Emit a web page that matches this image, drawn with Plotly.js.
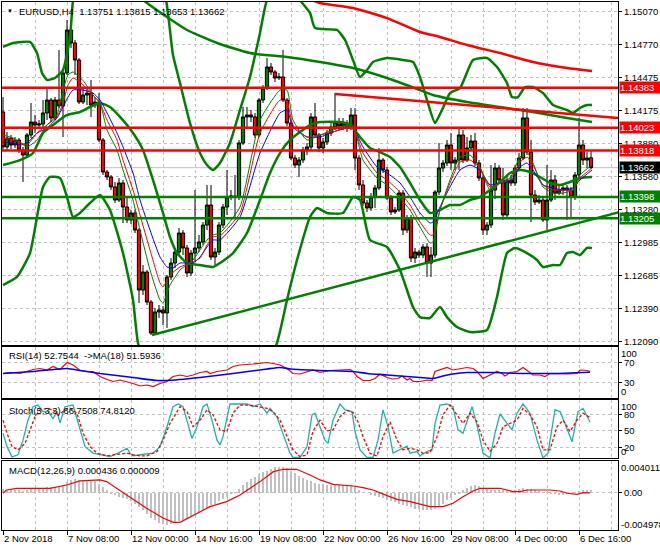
<!DOCTYPE html>
<html><head><meta charset="utf-8">
<script src="https://cdn.plot.ly/plotly-3.0.1.min.js"></script>
<style>html,body{margin:0;padding:0;background:#fff;}#chart{width:660px;height:550px;}</style>
</head><body><div id="chart"></div>
<script>
// ---------- DATA ----------
const dateLabels = ['2 Nov 2018','7 Nov 08:00','12 Nov 00:00','14 Nov 16:00','19 Nov 08:00','22 Nov 00:00','26 Nov 16:00','29 Nov 08:00','4 Dec 00:00','6 Dec 16:00'];
const priceTicks = [1.15070,1.14770,1.14475,1.14175,1.13880,1.13580,1.13280,1.12985,1.12685,1.12390,1.12090];
const redLevels = [1.14383, 1.14023, 1.13818];
const greenLevels = [1.13398, 1.13205];
const currentPrice = 1.13662;

const candleOpen = [1.14165,1.13849,1.13930,1.13867,1.13912,1.13822,1.13776,1.13957,1.14074,1.14047,1.14056,1.14156,1.14273,1.14111,1.14273,1.14219,1.14517,1.14905,1.14788,1.14634,1.14255,1.14318,1.14336,1.14228,1.14255,1.13912,1.13623,1.13578,1.13488,1.13370,1.13524,1.13307,1.13190,1.13253,1.13099,1.12557,1.12720,1.12449,1.12169,1.12359,1.12377,1.12350,1.12675,1.12801,1.12900,1.13072,1.12937,1.12711,1.12891,1.12937,1.12991,1.13144,1.13325,1.12855,1.12900,1.13144,1.13307,1.13397,1.13406,1.13397,1.13885,1.14120,1.14138,1.14120,1.13957,1.14273,1.14381,1.14571,1.14526,1.14472,1.14481,1.14273,1.14065,1.13749,1.13686,1.13731,1.13822,1.13849,1.14120,1.13957,1.13840,1.13894,1.13975,1.14029,1.14074,1.14038,1.14065,1.14020,1.14138,1.13749,1.13506,1.13343,1.13298,1.13397,1.13479,1.13731,1.13641,1.13388,1.13262,1.13280,1.13433,1.13099,1.13208,1.12846,1.12900,1.12873,1.12946,1.12801,1.12873,1.13442,1.13659,1.13704,1.13867,1.13704,1.13731,1.13957,1.13731,1.13840,1.13903,1.13704,1.13569,1.13099,1.13144,1.13460,1.13659,1.13551,1.13235,1.13551,1.13524,1.13659,1.13749,1.14111,1.13803,1.13415,1.13352,1.13370,1.13190,1.13370,1.13551,1.13433,1.13460,1.13479,1.13460,1.13397,1.13596,1.13867,1.13731,1.13751];
const candleHigh = [1.14300,1.13984,1.13957,1.13939,1.13930,1.13849,1.13975,1.14246,1.14138,1.14092,1.14273,1.14381,1.14291,1.14300,1.14725,1.14544,1.14995,1.14995,1.14815,1.14652,1.14381,1.14381,1.14454,1.14300,1.14336,1.13930,1.13641,1.13596,1.13533,1.13569,1.13551,1.13388,1.13280,1.13280,1.13117,1.12783,1.12738,1.12467,1.12395,1.12422,1.12413,1.12693,1.12846,1.12937,1.13117,1.13099,1.12964,1.12919,1.13460,1.13054,1.13171,1.13506,1.13506,1.12937,1.13171,1.13334,1.13641,1.13460,1.13596,1.13912,1.14210,1.14210,1.14183,1.14156,1.14291,1.14408,1.14652,1.14607,1.14544,1.14517,1.14725,1.14291,1.14092,1.13776,1.13758,1.13849,1.13885,1.14156,1.14246,1.13975,1.13930,1.14002,1.14065,1.14336,1.14111,1.14111,1.14092,1.14201,1.14201,1.13776,1.13551,1.13370,1.13433,1.13506,1.13840,1.13749,1.13668,1.13415,1.13307,1.13460,1.13460,1.13235,1.13235,1.12937,1.12919,1.12973,1.12982,1.12946,1.13460,1.13885,1.13731,1.13912,1.13975,1.13758,1.14020,1.14002,1.13939,1.13957,1.13975,1.13731,1.13596,1.13171,1.13686,1.13704,1.13686,1.13659,1.13596,1.13596,1.13686,1.13794,1.14201,1.14201,1.13912,1.13460,1.13415,1.13388,1.13686,1.13641,1.13596,1.13506,1.13506,1.13506,1.13488,1.13623,1.14111,1.13912,1.13803,1.13815];
const candleLow = [1.13822,1.13822,1.13831,1.13840,1.13794,1.13533,1.13758,1.13930,1.13975,1.14020,1.14029,1.14092,1.14074,1.14092,1.14201,1.13939,1.14499,1.14743,1.14499,1.14237,1.14237,1.14228,1.14120,1.14201,1.13894,1.13596,1.13551,1.13460,1.13343,1.13352,1.13162,1.13162,1.13153,1.13072,1.12440,1.12512,1.12422,1.12151,1.12151,1.12305,1.12241,1.12214,1.12648,1.12756,1.12864,1.12873,1.12675,1.12684,1.12810,1.12900,1.12964,1.13099,1.12828,1.12783,1.12873,1.13117,1.13235,1.13370,1.13217,1.13370,1.13867,1.14029,1.14074,1.13930,1.13939,1.14246,1.14363,1.14499,1.14436,1.14454,1.14255,1.14038,1.13731,1.13659,1.13578,1.13704,1.13776,1.13822,1.13930,1.13803,1.13794,1.13867,1.13948,1.14002,1.14002,1.14002,1.13984,1.14002,1.13641,1.13460,1.13316,1.13262,1.13271,1.13298,1.13460,1.13614,1.13370,1.13235,1.13244,1.13262,1.13054,1.13072,1.12810,1.12801,1.12846,1.12846,1.12675,1.12675,1.12846,1.13415,1.13623,1.13677,1.13641,1.13641,1.13641,1.13704,1.13713,1.13822,1.13677,1.13542,1.13054,1.13054,1.13117,1.13379,1.13524,1.13190,1.13208,1.13497,1.13497,1.13641,1.13731,1.13776,1.13171,1.13325,1.13334,1.13171,1.13099,1.13352,1.13370,1.13415,1.13415,1.13190,1.13208,1.13370,1.13569,1.13686,1.13659,1.13653];
const candleClose = [1.13849,1.13930,1.13867,1.13912,1.13822,1.13776,1.13957,1.14074,1.14047,1.14056,1.14156,1.14273,1.14111,1.14273,1.14219,1.14517,1.14905,1.14788,1.14634,1.14255,1.14318,1.14336,1.14228,1.14255,1.13912,1.13623,1.13578,1.13488,1.13370,1.13524,1.13307,1.13190,1.13253,1.13099,1.12557,1.12720,1.12449,1.12169,1.12359,1.12377,1.12350,1.12675,1.12801,1.12900,1.13072,1.12937,1.12711,1.12891,1.12937,1.12991,1.13144,1.13325,1.12855,1.12900,1.13144,1.13307,1.13397,1.13406,1.13397,1.13885,1.14120,1.14138,1.14120,1.13957,1.14273,1.14381,1.14571,1.14526,1.14472,1.14481,1.14273,1.14065,1.13749,1.13686,1.13731,1.13822,1.13849,1.14120,1.13957,1.13840,1.13894,1.13975,1.14029,1.14074,1.14038,1.14065,1.14020,1.14138,1.13749,1.13506,1.13343,1.13298,1.13397,1.13479,1.13731,1.13641,1.13388,1.13262,1.13280,1.13433,1.13099,1.13208,1.12846,1.12900,1.12873,1.12946,1.12801,1.12873,1.13442,1.13659,1.13704,1.13867,1.13704,1.13731,1.13957,1.13731,1.13840,1.13903,1.13704,1.13569,1.13099,1.13144,1.13460,1.13659,1.13551,1.13235,1.13551,1.13524,1.13659,1.13749,1.14111,1.13803,1.13415,1.13352,1.13370,1.13190,1.13370,1.13551,1.13433,1.13460,1.13479,1.13460,1.13397,1.13596,1.13867,1.13731,1.13749,1.13662];

// Bollinger bands (read at vertices: bar index, price)
const bbUpperX = [0,2.5,6.75,8.5,9.75,11,13,15,16.75,17.5,19.25,29.25,38,40.75,42.5,44.25,46.75,49.25,51,52.5,54.25,56.75,59.25,61.75,64.25,66,70.5,74.25,76.75,78,83.5,85.5,87.5,89.25,91,92.5,96,100,102.5,104.25,106,108,109.75,111.75,114.25,117.5,121,123.5,126,127.25,128.75,130.5,132.5,135,137.5,141,142.5,144.25,146,147.25];
const bbUpperY = [1.14752,1.14788,1.14797,1.14697,1.14517,1.14454,1.14472,1.14544,1.14842,1.15176,1.15537,1.15718,1.15447,1.15176,1.14679,1.14426,1.14065,1.13794,1.13686,1.13641,1.13704,1.13885,1.14183,1.14481,1.14878,1.15176,1.15402,1.15176,1.15059,1.14923,1.14905,1.14815,1.14634,1.14481,1.14544,1.14616,1.14652,1.14634,1.14616,1.14481,1.14273,1.14065,1.14183,1.14336,1.14381,1.14634,1.14652,1.14571,1.14426,1.14300,1.14300,1.14390,1.14390,1.14336,1.14228,1.14183,1.14156,1.14201,1.14228,1.14228];
const bbMidX = [0,4.25,7.5,10,12.5,16,19.25,21.75,24.25,26.75,29.25,32.5,35,37.5,40,41.75,43.5,46,49.25,52.5,54.25,57.5,61,64.25,66.75,69.25,71.75,74.25,76.75,79.25,84.25,86.75,89.25,91.75,94.25,96.75,99.25,101.75,104.25,106.75,109.25,111.75,114.25,116.75,119.25,121.75,124.25,126.75,129.25,131.75,134.25,136.75,139.25,141.75,144.25,147.25];
const bbMidY = [1.13686,1.13731,1.13794,1.13975,1.14047,1.14138,1.14165,1.14210,1.14246,1.14210,1.14120,1.13975,1.13822,1.13551,1.13253,1.13036,1.12891,1.12801,1.12783,1.12765,1.12801,1.12891,1.13072,1.13370,1.13614,1.13794,1.13912,1.13984,1.14047,1.14074,1.14074,1.14047,1.13939,1.13840,1.13803,1.13758,1.13668,1.13524,1.13370,1.13253,1.13280,1.13325,1.13325,1.13370,1.13397,1.13460,1.13533,1.13614,1.13641,1.13623,1.13578,1.13524,1.13506,1.13533,1.13569,1.13578];
const bbLowX = [0,3.5,6.75,8.5,10,11.75,14.25,16,17.5,19.25,21.75,24.25,26.75,30,32.5,33.75,36.75,49.25,61.75,68.5,71,73.5,76.75,78.5,81,85,87.5,89.25,91.75,96,99.25,102.5,104.25,106.75,109.25,111,113.5,116.75,121,123.5,126,128,131,133.5,135,137.5,139.25,141,142.5,144.25,146,147.25];
const bbLowY = [1.12602,1.12675,1.12891,1.13217,1.13488,1.13578,1.13569,1.13397,1.13217,1.13253,1.13343,1.13415,1.13280,1.12891,1.12467,1.12079,1.11745,1.11383,1.11564,1.12079,1.12467,1.12828,1.13217,1.13298,1.13253,1.13253,1.13397,1.13370,1.13009,1.12946,1.12738,1.12404,1.12313,1.12305,1.12404,1.12313,1.12223,1.12178,1.12196,1.12494,1.12891,1.12937,1.12891,1.12828,1.12765,1.12783,1.12783,1.12891,1.12900,1.12873,1.12937,1.12937];

// Long moving averages
const longGreenX = [29.25,35,41,46,53.5,61.75,71,79.25,87.5,96,104.25,107.5,116,124.25,132.5,141,147.25];
const longGreenY = [1.15357,1.15176,1.15022,1.14905,1.14788,1.14697,1.14661,1.14616,1.14562,1.14472,1.14363,1.14318,1.14255,1.14210,1.14165,1.14111,1.14074];
const longRedX = [74.25,79.25,87.5,96,104.25,109.25,116,124.25,132.5,141,147.25];
const longRedY = [1.15221,1.15149,1.15104,1.15013,1.14887,1.14842,1.14770,1.14697,1.14616,1.14562,1.14535];

// Short moving averages
const maBlueX = [0,2.5,4.25,6,8.5,11,13.5,15,16.25,17.5,20,22.5,24.25,26,28.5,30,32.5,34.25,36.75,39.25,41,42.5,44.25,47.5,49.25,51,52.5,54.25,59.25,64.25,69.25,71,72.5,76,79.25,82.5,86,87.5,90,93.5,96,99.25,101.75,104.25,106.75,107.5,109.25,111.75,114.25,116.75,119.25,121.75,124.25,126.75,129.25,131,132.5,135,137.5,140,142.5,144.25,147.25];
const maBlueY = [1.13894,1.13885,1.13867,1.13885,1.13975,1.14020,1.14111,1.14210,1.14300,1.14363,1.14363,1.14336,1.14273,1.14156,1.13975,1.13849,1.13614,1.13370,1.13099,1.12855,1.12765,1.12756,1.12801,1.12801,1.12855,1.12946,1.13009,1.13009,1.13217,1.13794,1.14156,1.14183,1.14029,1.13939,1.13939,1.13984,1.14020,1.14020,1.13849,1.13668,1.13614,1.13524,1.13397,1.13253,1.13162,1.13171,1.13307,1.13488,1.13641,1.13686,1.13641,1.13506,1.13524,1.13533,1.13668,1.13704,1.13641,1.13506,1.13479,1.13460,1.13479,1.13551,1.13641];
const maFastX = [0,2.5,4.25,6,8.5,11,13.5,15,16.25,17.5,20,22.5,24.25,26,28.5,30,32.5,34.25,36.75,39.25,40,41.75,44.25,47.5,49.25,51,52.5,54.25,59.25,64.25,69.25,71,72.5,76,79.25,82.5,86,87.5,90,93.5,96,99.25,101.75,104.25,106.75,107.5,109.25,111.75,114.25,116.75,119.25,121.75,124.25,126.75,129.25,131,132.5,135,137.5,140,142.5,144.25,147.25];
const maRedY = [1.13930,1.13912,1.13890,1.13867,1.13975,1.14047,1.14120,1.14246,1.14408,1.14472,1.14410,1.14318,1.14246,1.14092,1.13912,1.13731,1.13460,1.13235,1.12919,1.12621,1.12584,1.12693,1.12765,1.12810,1.12846,1.12964,1.13036,1.13045,1.13253,1.13975,1.14273,1.14255,1.14047,1.13939,1.13957,1.13984,1.14029,1.14029,1.13794,1.13614,1.13551,1.13442,1.13325,1.13171,1.13054,1.13054,1.13280,1.13524,1.13713,1.13731,1.13659,1.13488,1.13524,1.13551,1.13713,1.13758,1.13686,1.13506,1.13460,1.13460,1.13460,1.13569,1.13659];
const maGreenY = [1.13957,1.13930,1.13890,1.13849,1.13912,1.14047,1.14138,1.14363,1.14499,1.14526,1.14450,1.14318,1.14246,1.14002,1.13822,1.13641,1.13370,1.13099,1.12738,1.12467,1.12440,1.12602,1.12738,1.12828,1.12919,1.13009,1.13054,1.13072,1.13307,1.14092,1.14363,1.14363,1.14092,1.13912,1.13957,1.14002,1.14047,1.14047,1.13731,1.13569,1.13506,1.13388,1.13280,1.13126,1.12982,1.12991,1.13280,1.13551,1.13758,1.13776,1.13668,1.13460,1.13524,1.13569,1.13758,1.13803,1.13704,1.13488,1.13433,1.13433,1.13460,1.13596,1.13686];

// Trend lines
const trendRedX = [83, 153.75];
const trendRedY = [1.14327, 1.14111];
const trendGreenX = [37.25, 154.25];
const trendGreenY = [1.12151, 1.13262];

// RSI
const rsiX = [0,1.75,4.25,6,7.5,9.25,11,12.5,14.25,16,17.5,19.25,21,22.5,24.25,26,27.5,29.25,31,32.5,34.25,36,37.5,39.25,41,42.5,44.25,46,47.5,49.25,51,51.75,53.5,56,57.5,59.25,62.5,66,67.5,69.25,71,72.5,74.25,76,77.5,79.25,81.75,84.25,86.75,87.5,88.5,90,91.75,93,94.25,96,97.25,98.75,99.75,101,101.75,102.5,104.25,106,107.25,108,109.25,111,112.5,114.25,116,117.5,118.5,120,121.75,123.5,124.75,125.5,126.75,128.5,130,131.25,132.5,134.25,135.5,136.75,138.5,141,143.5,144.25,146,146.75];
const rsiY = [49,51,49,53,57,59,56,63,57,71,66,55,53,53,43,37,33,36,33,29,24,26,23,29,33,43,46,43,46,51,53,49,53,56,63,66,68,71,69,66,59,49,48,53,56,51,55,56,57,53,43,35,35,39,48,41,38,39,44,36,39,33,33,36,35,53,57,61,56,59,61,59,53,39,46,53,49,44,51,53,61,53,46,46,43,49,48,48,49,56,55,52.75];
const rsiMaX = [0,7.5,16,19.25,24.25,32.5,38.5,41,49.25,57.5,66,69.25,72,79.25,87.5,91,96,99.25,104.25,107.5,110,112.5,116,119.25,122.5,129.25,137.5,146.75];
const rsiMaY = [49,53,59,55,49,41,35,35,41,49,58,61,58,55,53,49,46,44,41,39,44,48,51,51,51,49,49,51.59];

// Stochastic
const stochKX = [0,1,2.25,3.75,5,6.25,7.5,8.75,10,11.25,12.5,13.5,14.25,15.5,17.5,18.75,20.5,22.5,24.75,26.75,28.75,31,31.75,32.5,34.25,36,37.5,39.25,41,42.5,43.75,45,46,47.25,48.5,50,51,52.25,53.5,54.25,55,56.75,58.5,61,62.5,64.25,66,66.75,68.5,70,71.75,72.5,74.25,76,77.25,78,79.25,80.5,81.25,82.5,84.25,85.5,87.25,88,89.25,91,92.5,93.75,95,96.25,97.5,99.25,101,101.75,103.5,104.25,106,107.25,108,109.25,111,112.5,113.75,115,117.25,118.5,120,121.75,123,124.25,126,127.25,128.5,130,131.75,133.5,135,136.25,138,139.25,140.5,142.25,143.75,145,146.75];
const stochKY = [46,21,2,6,33,70,95,98,86,86,73,86,65,95,98,64,21,9,6,2.5,9,18,9,4,6,7,9,21,58,95,100,95,70,36,58,95,100,70,33,24,39.5,100,100,100,95,100,83,92,76,46,9,1,1,21,80,83,59,33,27,70,100,89,86,49,15,1,1,33,89,58,9,15,22,9,12,4,12,15,64,98,100,95,52,46,95,61,9,0,46,81.5,64,52,83,100,83,33,0,9,89,86,64,30,86,92,66.75];
const stochDX = [0,1,2.25,3.75,5.5,6.75,8,9.25,11,12.5,13.75,15,16.75,18.5,20,21.75,23.5,26,28.5,31,32.5,34.25,36,38.5,40,41.75,44.25,46,47.5,49.25,51,52.5,54.25,56,57.5,59.25,61.75,64.25,66,67.5,69.25,71,72.5,74.25,76,77.5,79.25,81,82.5,84.25,86,87.5,88.75,90,91.75,93.5,95,96.75,98.5,100,101.75,103.5,105,106.75,108.5,110,111.75,113.5,115,116.75,118.5,120,121.75,123.5,125,126.75,128.5,130,131.75,133.5,135,136.75,138.5,140,141.75,143.5,145,146.75];
const stochDY = [70,46,21,15,27,52,76,89,92,89,80,86,92,83,46,21,9,4,6,9,6,4,4,12,33,64,95,86,58,70,89,80,52,49,83,98,98,95,92,86,70,40,15,2.5,5.6,50,70,50,52,76.5,88,84,67,39.5,8.6,3.7,39.5,67,33,15,18,15,8.6,10,39.5,80,98,80,64,83,67,33,12,27,58,64,70,92,80,58,15,15,58,70,49,70,83,74.81];

// MACD
const macdHist = [0.0006,0.0005,0.0006,0.0005,0.0004,0.0003,0.0004,0.0006,0.0006,0.0006,0.0007,0.0009,
 0.0009,0.0010,0.0011,0.0013,0.0018,0.0021,0.0022,0.0021,0.0020,0.0021,0.0020,0.0019,0.0014,0.0010,0.0004,
 -0.0002,-0.0004,-0.0006,-0.0008,-0.0010,-0.0013,-0.0017,-0.0023,-0.0027,-0.0034,-0.0040,-0.0043,-0.0048,-0.0050,-0.0051,-0.0049,-0.0048,-0.0045,-0.0044,-0.0041,-0.0037,-0.0035,-0.0031,-0.0028,-0.0024,-0.0020,-0.0017,-0.0013,-0.0009,-0.0006,-0.0002,
 0.0002,0.0007,0.0012,0.0017,0.0022,0.0026,0.0030,0.0033,0.0036,0.0039,0.0041,0.0042,0.0042,0.0040,0.0036,0.0032,0.0028,0.0024,0.0021,0.0019,0.0016,0.0015,0.0014,0.0013,
 0.0013,0.0014,0.0013,0.0012,0.0013,0.0013,0.0010,0.0005,0.0002,0.0000,
 -0.0003,-0.0005,-0.0006,-0.0008,-0.0011,-0.0013,-0.0015,-0.0017,-0.0019,-0.0021,-0.0023,-0.0025,-0.0026,-0.0027,-0.0028,-0.0028,-0.0025,-0.0021,-0.0017,-0.0012,-0.0008,-0.0004,-0.0001,
 0.0004,0.0008,0.0011,0.0012,0.0011,0.0008,0.0006,0.0005,0.0005,0.0004,0.0004,0.0003,0.0003,0.0004,0.0006,0.0008,0.0007,0.0006,0.0005,0.0003,0.0002,0.0001,-0.0001,-0.0002,-0.0003,-0.0003,-0.0002,-0.0001,0.0001,0.0003,0.0004,0.0004,0.000436];
const macdSigX = [0,0.9,3.4,11.75,15.9,19.25,24.25,25.9,30.9,35.9,40.1,42.6,44.25,47.6,51.75,55.9,59.25,64.25,67.6,70.1,73.4,76.75,79.25,82.5,87.5,90,92.5,96,98.5,101.75,104.25,106.75,110,112.5,115,117.5,119.25,124.25,127.5,129.25,131,136.75,139.25,141,143.5,145,146.75];
const macdSigY = [-0.00005,0.00048,0.00075,0.00075,0.00128,0.00193,0.00209,0.00182,-0.00032,-0.00246,-0.00406,-0.00471,-0.00471,-0.00353,-0.00219,-0.00139,-0.00032,0.00182,0.00342,0.00380,0.00380,0.00289,0.00209,0.00139,0.00112,0.00086,0.00048,-0.00043,-0.00102,-0.00139,-0.00182,-0.00219,-0.00219,-0.00166,-0.00059,0.00032,0.00075,0.00075,0.00021,0.00021,0.00048,0.00048,0.00032,-0.00005,-0.00021,0.00005,0.000009];

// ---------- CHART ----------
const bars = candleOpen.map((_, i) => i);
const F = '"Liberation Sans", Arial, sans-serif';
const FS = 9.5;
const GRID = '#c0c0c0';
const GD = '3px,3px';
const GREEN = '#008000', RED = '#ff0000';

function line(x, y, color, width, ax, extra) {
  return Object.assign({type:'scatter', mode:'lines', x, y, xaxis:ax[0], yaxis:ax[1],
    line:{color, width, shape:'spline', smoothing:0.5}, hoverinfo:'skip', showlegend:false}, extra || {});
}
const M = ['x','y'], R = ['x2','y2'], S = ['x3','y3'], D = ['x4','y4'];

const traces = [
  {type:'candlestick', x:bars, open:candleOpen, high:candleHigh, low:candleLow, close:candleClose,
   xaxis:'x', yaxis:'y', whiskerwidth:0, hoverinfo:'skip', showlegend:false,
   increasing:{line:{color:'#000', width:1}, fillcolor:GREEN},
   decreasing:{line:{color:'#000', width:1}, fillcolor:RED}},
  line(bbUpperX, bbUpperY, GREEN, 2.5, M),
  line(bbMidX, bbMidY, GREEN, 2.5, M),
  line(bbLowX, bbLowY, GREEN, 2.5, M),
  line(longGreenX, longGreenY, GREEN, 2.5, M),
  line(longRedX, longRedY, RED, 2.5, M),
  line(maBlueX, maBlueY, '#0000ff', 1, M),
  line(maFastX, maRedY, RED, 1, M),
  line(maFastX, maGreenY, GREEN, 1, M),
  line(trendRedX, trendRedY, RED, 2.5, M, {line:{color:RED, width:2.5}}),
  line(trendGreenX, trendGreenY, GREEN, 2.5, M, {line:{color:GREEN, width:2.5}}),
  line(rsiX, rsiY, RED, 1.2, R, {line:{color:RED, width:1.2}}),
  line(rsiMaX, rsiMaY, '#0000ff', 1.6, R),
  line(stochKX, stochKY, '#20b2aa', 1.3, S, {line:{color:'#20b2aa', width:1.3}}),
  line(stochDX, stochDY, RED, 1.3, S, {line:{color:RED, width:1.3, dash:'3px,2px'}}),
  {type:'bar', x:bars, y:macdHist, xaxis:'x4', yaxis:'y4', width:0.3,
   marker:{color:'#c0c0c0', line:{width:0}}, hoverinfo:'skip', showlegend:false},
  line(macdSigX, macdSigY, RED, 1.2, D, {line:{color:RED, width:1.2}})
];

const xRange = [-0.25, 153.75];
const majorTicks = dateLabels.map((_, k) => 16 * k);
const minorTicks = majorTicks.map(v => v + 8);
function xAxis(anchor, labels) {
  return {domain:[0,1], anchor, range:xRange, tickmode:'array', tickvals:majorTicks, ticktext:dateLabels,
    showticklabels:labels, ticks:labels ? 'outside' : '', ticklen:4, tickcolor:'#000',
    ticklabelposition:'outside right', tickangle:0, automargin:false,
    showgrid:true, gridcolor:GRID, griddash:GD, gridwidth:1,
    minor:{tickmode:'array', tickvals:minorTicks, showgrid:true, gridcolor:GRID, griddash:GD, gridwidth:1, ticks:''},
    showline:true, mirror:true, linecolor:'#000', linewidth:1, zeroline:false,
    tickfont:{family:F, size:FS, color:'#000'}, fixedrange:true, rangeslider:{visible:false}};
}
function yAxis(anchor, domain, range, tickvals, ticktext) {
  return {domain, anchor, side:'right', range, tickmode:'array', tickvals, ticktext,
    ticks:'outside', ticklen:3, tickcolor:'#000', automargin:false,
    showgrid:true, gridcolor:GRID, griddash:GD, gridwidth:1,
    showline:true, mirror:true, linecolor:'#000', linewidth:1, zeroline:false,
    tickfont:{family:F, size:FS, color:'#000'}, fixedrange:true};
}

const shapes = [];
shapes.push({type:'line', xref:'x domain', x0:0, x1:1, yref:'y', y0:currentPrice, y1:currentPrice,
  line:{color:'#c0c0c0', width:1}, layer:'below'});
redLevels.forEach(v => shapes.push({type:'line', xref:'x domain', x0:0, x1:1, yref:'y', y0:v, y1:v, line:{color:RED, width:2.5}}));
greenLevels.forEach(v => shapes.push({type:'line', xref:'x domain', x0:0, x1:1, yref:'y', y0:v, y1:v, line:{color:GREEN, width:2.5}}));

const fmt = v => v.toFixed(5);
const annotations = [];
function tag(v, bg) {
  annotations.push({xref:'paper', x:1, xanchor:'left', xshift:1, yref:'y', y:v, yanchor:'middle',
    text:fmt(v), showarrow:false, bgcolor:bg, font:{family:F, size:FS, color:'#fff'},
    width:40, height:11, align:'left', borderpad:0});
}
redLevels.forEach(v => tag(v, RED));
tag(currentPrice, '#000');
greenLevels.forEach(v => tag(v, GREEN));

function label(text, yref, yshift) {
  annotations.push({xref:'paper', x:0, xanchor:'left', xshift:5, yref, y:1, yanchor:'top', yshift,
    text, showarrow:false, font:{family:F, size:FS, color:'#000'}});
}
annotations.push({xref:'paper', x:0, xanchor:'left', xshift:3, yref:'y domain', y:1, yanchor:'top', yshift:-4,
  text:'▼', showarrow:false, font:{family:F, size:6, color:'#000'}});
annotations.push({xref:'paper', x:0, xanchor:'left', xshift:15, yref:'y domain', y:1, yanchor:'top', yshift:-2,
  text:'EURUSD,H4\u00a0\u00a01.13751 1.13815 1.13653 1.13662', showarrow:false, font:{family:F, size:FS, color:'#000'}});
label('RSI(14) 52.7544\u00a0\u00a0->MA(18) 51.5936', 'y2 domain', -1);
label('Stoch(5,3,3) 66.7508 74.8120', 'y3 domain', -3);
label('MACD(12,26,9) 0.000436 0.000009', 'y4 domain', -2);

function edge(text, yref, y, yanchor) {
  annotations.push({xref:'paper', x:1, xanchor:'left', xshift:2, yref, y, yanchor,
    text, showarrow:false, font:{family:F, size:FS, color:'#000'}, borderpad:0});
}
edge('100', 'y2 domain', 1, 'top');
edge('0', 'y2 domain', 0, 'bottom');
edge('100', 'y3 domain', 1, 'top');
edge('0', 'y3 domain', 0, 'bottom');
annotations.push({xref:'paper', x:1, xanchor:'left', xshift:2, yref:'y4', y:0.004011, yanchor:'middle',
  text:'0.004011', showarrow:false, font:{family:F, size:FS, color:'#000'}, borderpad:0});
annotations.push({xref:'paper', x:1, xanchor:'left', xshift:2, yref:'y4', y:-0.004978, yanchor:'middle',
  text:'-0.004978', showarrow:false, font:{family:F, size:FS, color:'#000'}, borderpad:0});

const layout = {
  width:660, height:550, margin:{l:2, r:42, t:2, b:20},
  paper_bgcolor:'#fff', plot_bgcolor:'#fff', showlegend:false,
  boxgap:0.15, boxgroupgap:0.05, bargap:0,
  xaxis:xAxis('y', false), xaxis2:xAxis('y2', false), xaxis3:xAxis('y3', false), xaxis4:xAxis('y4', true),
  yaxis:yAxis('x', [0.3504, 1], [1.12061, 1.15158], priceTicks, priceTicks.map(fmt)),
  yaxis2:yAxis('x2', [0.25, 0.3466], [0, 102], [70, 30], ['70', '30']),
  yaxis3:yAxis('x3', [0.1364, 0.2462], [0, 107.4], [80, 50, 20], ['80', '50', '20']),
  yaxis4:yAxis('x4', [0, 0.1307], [-0.00594, 0.00513], [0], ['0.00']),
  shapes, annotations
};
Plotly.newPlot('chart', traces, layout, {displayModeBar:false, staticPlot:true});
</script></body></html>
